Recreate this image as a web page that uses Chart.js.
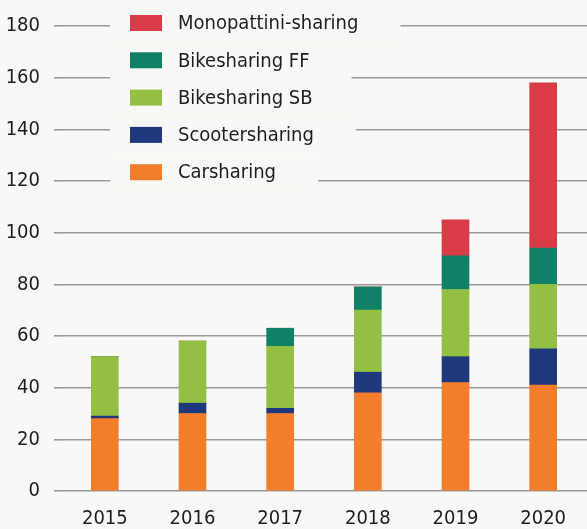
<!DOCTYPE html>
<html>
<head>
<meta charset="utf-8">
<script src="https://cdn.jsdelivr.net/npm/chart.js@4"></script>
<style>
  html, body { margin: 0; padding: 0; background: #f8f8f6; }
  #wrap { width: 587px; height: 529px; }
</style>
</head>
<body>
<div id="wrap"><canvas id="sharingChart" width="587" height="529"></canvas></div>
<script>
const years = ['2015', '2016', '2017', '2018', '2019', '2020'];
const yTicks = [0, 20, 40, 60, 80, 100, 120, 140, 160, 180];

// valori
const carsharing = [28, 30, 30, 38, 42, 41];
const scootersharing = [1, 4, 2, 8, 10, 14];
const bikesharingSB = [23, 24, 24, 24, 26, 25];
const bikesharingFF = [0, 0, 7, 9, 13, 14];
const monopattini = [0, 0, 0, 0, 14, 64];

const FONT = '"Liberation Sans Narrow", "DejaVu Sans Condensed", Roboto, sans-serif';
const BG = '#f8f8f6';

// legenda disegnata sopra la griglia, con sfondo che copre le linee
const overlayLegend = {
    id: 'overlayLegend',
    afterDraw(chart) {
        const c = chart.ctx;
        const items = chart.data.datasets.slice().reverse();
        c.save();
        c.font = '20px ' + FONT;
        c.textBaseline = 'middle';
        items.forEach((ds, k) => {
            const y = 23 + k * 37.3;
            const w = c.measureText(ds.label).width;
            c.fillStyle = BG;
            c.fillRect(110, y - 18.6, 178 + w + 42 - 110, 37.3);
            c.fillStyle = ds.backgroundColor;
            c.fillRect(130, y - 8, 32, 16);
            c.fillStyle = '#1e1e1e';
            c.fillText(ds.label, 178, y + 1);
        });
        c.restore();
    }
};

const ctx = document.getElementById('sharingChart').getContext('2d');
new Chart(ctx, {
    type: 'bar',
    data: {
        labels: years,
        datasets: [
            { label: 'Carsharing', data: carsharing, backgroundColor: '#f47d2b' },
            { label: 'Scootersharing', data: scootersharing, backgroundColor: '#1f387c' },
            { label: 'Bikesharing SB', data: bikesharingSB, backgroundColor: '#93c043' },
            { label: 'Bikesharing FF', data: bikesharingFF, backgroundColor: '#0f8167' },
            { label: 'Monopattini-sharing', data: monopattini, backgroundColor: '#d93c47' }
        ]
    },
    options: {
        responsive: false,
        animation: false,
        layout: { padding: { top: 23, right: 0, left: 0, bottom: 0 } },
        datasets: { bar: { barThickness: 27, borderWidth: 0 } },
        plugins: {
            legend: { display: false },
            tooltip: { enabled: false }
        },
        scales: {
            x: {
                stacked: true,
                grid: { display: false },
                border: { display: false },
                ticks: { color: '#1e1e1e', font: { family: FONT, size: 20 }, padding: 8 },
                afterFit: s => { s.height = 38; }
            },
            y: {
                stacked: true,
                min: 0,
                max: 180,
                afterBuildTicks: s => { s.ticks = yTicks.map(v => ({ value: v })); },
                grid: { color: '#999999', lineWidth: 1.6, drawTicks: true, tickLength: 7 },
                border: { display: false },
                ticks: { color: '#1e1e1e', font: { family: FONT, size: 20 }, padding: 14 },
                afterFit: s => { s.width = 61; }
            }
        }
    },
    plugins: [overlayLegend]
});
</script>
</body>
</html>
